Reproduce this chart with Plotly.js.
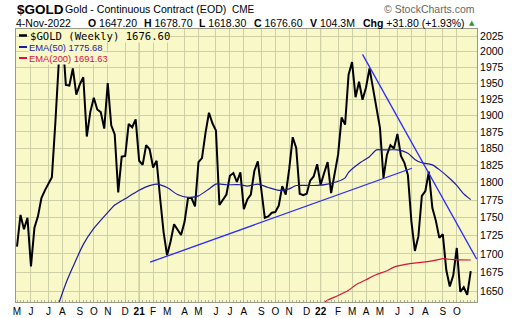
<!DOCTYPE html>
<html><head><meta charset="utf-8">
<script src="https://cdn.plot.ly/plotly-3.0.1.min.js"></script>
<style>html,body{margin:0;padding:0;background:#fff}#chart{width:520px;height:318px}</style>
</head><body><div id="chart"></div>
<script>
// ---- data (weekly, each week labelled by its Monday) ----
const firstWeek = '2020-05-04';
const closes = [
1710,1754,1734,1750,1683,1736,1752,1778,1789,1799,
1808,1890,1985,2028,1947,1946,1973,1932,1948,1959,
1868,1905,1927,1909,1905,1880,1950,1885,1871,1786,
1838,1839,1887,1882,1894,1832,1826,1855,1849,1822,
1832,1778,1730,1698,1717,1741,1733,1726,1744,1778,
1778,1766,1830,1836,1873,1904,1888,1877,1768,1776,
1783,1810,1814,1801,1815,1762,1776,1783,1817,1831,
1792,1750,1752,1757,1758,1767,1795,1783,1820,1867,
1851,1784,1782,1784,1803,1809,1827,1797,1814,1830,
1785,1811,1841,1897,1886,1963,1983,1928,1952,1924,
1943,1973,1942,1914,1881,1807,1841,1855,1850,1872,
1839,1829,1811,1745,1704,1724,1781,1788,1816,1764,
1746,1722,1727,1678,1656,1671,1708,1649,1655,1645,
1676.6];
const ema50Week = [12,14,16,19,22,25,27,28,31,35,37,40,43,46,49,52,55,57,60,64,66,69,72,75,78,80,83,86,89,92,94,95,98,101,103,105,109,112,114,116,119,121,124,126,128,130];
const ema50Val  = [1634,1660,1682,1713,1735,1752,1763,1768,1777,1789,1794,1798,1793,1783,1779,1781,1791,1798,1797,1797,1795,1798,1793,1789,1791,1796,1796,1796,1798,1802,1807,1815,1828,1838,1848,1848,1848,1843,1834,1829,1826,1819,1806,1796,1784,1775.68];
const ema200Week = [87,89,92,95,97,100,103,106,108,113,117,121,122,125,127,130];
const ema200Val  = [1632,1638,1644,1651,1658,1665,1672,1677,1682,1687,1689,1692.5,1693.5,1692,1691.8,1691.63];
const trend1Date = ['2021-01-26','2022-07-05'];
const trend1Val  = [1688.6,1821];
const trend2Date = ['2022-03-28','2022-11-12'];
const trend2Val  = [1995.5,1692.7];
const monthTickDates = ['2020-05-04','2020-06-01','2020-07-06','2020-08-03','2020-09-07','2020-10-05','2020-11-02','2020-12-07','2021-01-04','2021-02-01','2021-03-01','2021-04-05','2021-05-03','2021-06-07','2021-07-05','2021-08-02','2021-09-06','2021-10-04','2021-11-01','2021-12-06','2022-01-03','2022-02-07','2022-03-07','2022-04-04','2022-05-02','2022-06-06','2022-07-04','2022-08-01','2022-09-05','2022-10-03'];
const monthTickText = ['M','J','J','A','S','O','N','D','<b>21</b>','F','M','A','M','J','J','A','S','O','N','D','<b>22</b>','F','M','A','M','J','J','A','S','O'];
const yearLineDates = ['2021-01-04','2022-01-03'];
const priceTicks = [1650,1675,1700,1725,1750,1775,1800,1825,1850,1875,1900,1925,1950,1975,2000,2025];
const quote = {date:'4-Nov-2022', O:'1647.20', H:'1678.70', L:'1618.30', C:'1676.60', V:'104.3M', Chg:'+31.80 (+1.93%)'};

// ---- helpers ----
function addDays(s, n){ const d = new Date(s+'T00:00:00Z'); d.setUTCDate(d.getUTCDate()+n); return d.toISOString().slice(0,10); }
const weeks = closes.map((_, i) => addDays(firstWeek, 7*i));
const W = 520, H = 318, ML = 16, MR = 43, MT = 29, MB = 16;
const PW = W-ML-MR, PH = H-MT-MB;
const px = x => (x-ML)/PW;
const py = y => (H-MB-y)/PH;

const BG = '#f8f8c9', GRID = '#cdd0a6', YEARGRID = '#a7b07c';
const NAVY = '#1c1ca0', CRIMSON = '#d8143c', TREND = '#2a2aff';

const traces = [
  {x: weeks, y: closes, type:'scatter', mode:'lines', line:{color:'#000', width:2}, hoverinfo:'skip'},
  {x: ema50Week.map(i=>weeks[i]), y: ema50Val, type:'scatter', mode:'lines', line:{color:NAVY, width:1.2, shape:'spline', smoothing:0.6}},
  {x: ema200Week.map(i=>weeks[i]), y: ema200Val, type:'scatter', mode:'lines', line:{color:CRIMSON, width:1.2, shape:'spline', smoothing:0.6}},
  {x: trend1Date, y: trend1Val, type:'scatter', mode:'lines', line:{color:TREND, width:1.3}},
  {x: trend2Date, y: trend2Val, type:'scatter', mode:'lines', line:{color:TREND, width:1.3}}
];

const F = 'Liberation Sans, Arial, sans-serif';
const ann = [];
function A(xp, yp, text, opt){ ann.push(Object.assign({xref:'paper', yref:'paper', x:px(xp), y:py(yp), text:text, showarrow:false, xanchor:'left', yanchor:'middle', font:{family:F, size:10.5, color:'#000'}}, opt||{})); }
A(15, 9, '<b>$GOLD</b>', {font:{family:F, size:13.5, color:'#000'}});
A(63, 9, 'Gold - Continuous Contract (EOD)', {font:{family:F, size:10.6, color:'#000'}});
A(230, 9.5, 'CME', {font:{family:F, size:10, color:'#000'}});
A(477, 9, '© StockCharts.com', {xanchor:'right', font:{family:F, size:10.5, color:'#666'}});
A(14, 23, quote.date);
A(86.3, 23, '<b>O</b> '+quote.O);
A(142.3, 23, '<b>H</b> '+quote.H);
A(197.3, 23, '<b>L</b> '+quote.L);
A(252.3, 23, '<b>C</b> '+quote.C);
A(308.3, 23, '<b>V</b> '+quote.V);
A(360.7, 23, '<b>Chg</b> '+quote.Chg);
A(467, 23, '▲', {font:{family:'DejaVu Sans', size:7, color:'#2e9a2e'}});
// legend rows (opaque like the original legend)
const last = a => a[a.length-1];
A(29, 35.5, '$GOLD (Weekly) '+last(closes).toFixed(2), {font:{family:'DejaVu Sans Mono', size:10.6, color:'#000'}, bgcolor:BG, borderpad:0});
A(28, 47.2, 'EMA(50) '+last(ema50Val).toFixed(2), {font:{family:F, size:9.4, color:NAVY}, bgcolor:BG, borderpad:0});
A(28, 58.2, 'EMA(200) '+last(ema200Val).toFixed(2), {font:{family:F, size:9.4, color:CRIMSON}, bgcolor:BG, borderpad:0});

const shapes = yearLineDates.map(d => ({type:'line', xref:'x', yref:'paper', x0:d, x1:d, y0:0, y1:1, line:{color:YEARGRID, width:1}, layer:'between'}));
[[35.5,'#000',2.5],[47,NAVY,2],[58,CRIMSON,2]].forEach(r => shapes.push({type:'line', xref:'paper', yref:'paper', x0:px(19), x1:px(27), y0:py(r[0]), y1:py(r[0]), line:{color:r[1], width:r[2]}}));

const layout = {
  width:W, height:H, margin:{l:ML, r:MR, t:MT, b:MB, pad:0},
  paper_bgcolor:'#fff', plot_bgcolor:BG, showlegend:false,
  xaxis:{type:'date', range:['2020-05-02','2022-11-12 14:00'], tickvals:monthTickDates, ticktext:monthTickText, tickangle:0,
         showgrid:true, gridcolor:GRID, gridwidth:1, zeroline:false, showline:true, mirror:true, linecolor:'#9a9a86', linewidth:1,
         ticks:'', tickfont:{family:F, size:10, color:'#000'}, fixedrange:true, automargin:false,
         minor:{ticks:'inside', ticklen:2, tickcolor:'#b0b394', tick0:'2020-05-04', dtick:7*86400000, showgrid:false}},
  yaxis:{type:'log', range:[Math.log10(1635.5), Math.log10(2036.5)], side:'right', tickvals:priceTicks, ticktext:priceTicks.map(String),
         showgrid:true, gridcolor:GRID, gridwidth:1, zeroline:false, showline:true, mirror:true, linecolor:'#9a9a86', linewidth:1,
         ticks:'', tickfont:{family:F, size:10.5, color:'#000'}, fixedrange:true, automargin:false},
  annotations: ann, shapes: shapes
};
Plotly.newPlot('chart', traces, layout, {staticPlot:true, displayModeBar:false});
</script></body></html>
